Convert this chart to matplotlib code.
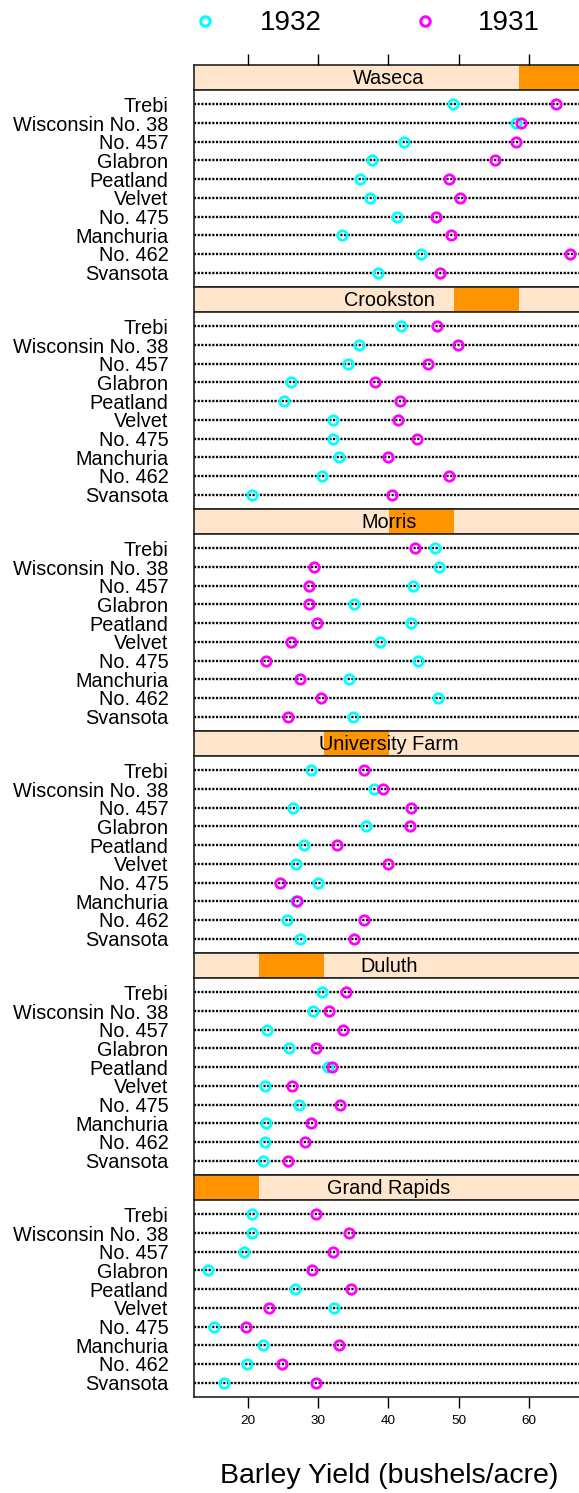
import matplotlib
matplotlib.use("Agg")
from matplotlib import pyplot as plt
from matplotlib.patches import Rectangle

plt.rcParams['font.family'] = ['Liberation Sans', 'DejaVu Sans']

varieties = ['Trebi', 'Wisconsin No. 38', 'No. 457', 'Glabron', 'Peatland',
             'Velvet', 'No. 475', 'Manchuria', 'No. 462', 'Svansota']
sites = ['Waseca', 'Crookston', 'Morris', 'University Farm', 'Duluth', 'Grand Rapids']
years = ['1932', '1931']

waseca_1932 = [49.23, 58.17, 42.20, 37.73, 36.03, 37.40, 41.27, 33.47, 44.70, 38.50]
waseca_1931 = [63.83, 58.80, 58.10, 55.20, 48.57, 50.23, 46.77, 48.87, 65.77, 47.33]
crookston_1932 = [41.83, 35.90, 34.33, 26.17, 25.23, 32.07, 32.13, 32.97, 30.53, 20.63]
crookston_1931 = [46.93, 49.87, 45.67, 38.13, 41.60, 41.33, 44.10, 39.93, 48.57, 40.47]
morris_1932 = [46.63, 47.17, 43.53, 35.13, 43.20, 38.83, 44.23, 34.37, 47.00, 35.03]
morris_1931 = [43.77, 29.47, 28.70, 28.77, 29.87, 26.13, 22.60, 27.43, 30.37, 25.77]
univfarm_1932 = [29.07, 38.00, 26.43, 36.80, 28.07, 26.87, 30.00, 26.90, 25.57, 27.43]
univfarm_1931 = [36.57, 39.30, 43.27, 43.07, 32.77, 39.90, 24.67, 27.00, 36.60, 35.13]
duluth_1932 = [30.60, 29.33, 22.70, 25.87, 31.37, 22.47, 27.37, 22.57, 22.50, 22.23]
duluth_1931 = [33.93, 31.60, 33.60, 29.67, 32.00, 26.30, 33.07, 28.97, 28.10, 25.70]
grandrapids_1932 = [20.63, 20.67, 19.47, 14.43, 26.77, 32.23, 15.23, 22.13, 19.90, 16.63]
grandrapids_1931 = [29.77, 34.47, 32.17, 29.13, 34.70, 23.03, 19.70, 32.97, 24.93, 29.67]

site_data = [
    (waseca_1932, waseca_1931),
    (crookston_1932, crookston_1931),
    (morris_1932, morris_1931),
    (univfarm_1932, univfarm_1931),
    (duluth_1932, duluth_1931),
    (grandrapids_1932, grandrapids_1931),
]

colors = ['#00ffff', '#ff00ff']
W, H = 579, 1493
fig = plt.figure(figsize=(W / 100, H / 100), dpi=100)


def box(x0, y0, x1, y1):
    # pixel box (from top-left) -> figure fraction
    return [x0 / W, 1 - y1 / H, (x1 - x0) / W, (y1 - y0) / H]


left, right = 194, 584
top0, strip_h, block_h = 65, 25, 222
all_vals = [v for pair in site_data for s in pair for v in s]
lo, hi = min(all_vals), max(all_vals)
pad = 0.04 * (hi - lo)
xlim = (lo - pad, hi + pad)
ypad = 0.77
ypos = list(range(len(varieties)))
ticks = [20, 30, 40, 50, 60]
nsites = len(sites)

for i, site in enumerate(sites):
    st = top0 + block_h * i
    sb = st + strip_h
    pb = st + block_h

    # strip
    sax = fig.add_axes(box(left, st, right, sb))
    sax.set_xlim(0, 1)
    sax.set_ylim(0, 1)
    sax.add_patch(Rectangle((0, 0), 1, 1, facecolor='#ffe5cc', edgecolor='none'))
    level = nsites - 1 - i
    sax.add_patch(Rectangle((level / nsites, 0), 1 / nsites, 1,
                            facecolor='#ff9400', edgecolor='none'))
    sax.text(0.5, 0.45, site, ha='center', va='center', fontsize=14.3)
    sax.set_xticks([])
    sax.set_yticks([])
    for sp in sax.spines.values():
        sp.set_linewidth(1.2)
        sp.set_color('#222222')
    sax.spines['bottom'].set_color('#55504a')
    if i == 0:
        tax = sax.twiny()
        tax.set_xlim(xlim)
        tax.set_xticks(ticks)
        tax.tick_params(axis='x', length=8, width=1, labeltop=False)
        for sp in tax.spines.values():
            sp.set_visible(False)

    # panel
    ax = fig.add_axes(box(left, sb, right, pb))
    for y in ypos:
        ax.axhline(y, color='black', lw=1.7, dashes=(0.9, 0.65), zorder=1)
    for k, yr in enumerate(years):
        ax.plot(site_data[i][k], ypos, 'o', ms=6.8, mfc='none', mec=colors[k],
                mew=2.0, zorder=3 + k)
    ax.set_xlim(xlim)
    ax.set_ylim(len(varieties) - 1 + ypad, -ypad)
    ax.set_yticks(ypos)
    ax.set_yticklabels(varieties, fontsize=14.3)
    ax.tick_params(axis='y', length=0, pad=18.5)
    if i == nsites - 1:
        ax.set_xticks(ticks)
        ax.tick_params(axis='x', length=8, width=1, labelsize=9.7, pad=5)
    else:
        ax.set_xticks([])
    for sp in ax.spines.values():
        sp.set_linewidth(1.2)
        sp.set_color('#222222')

# legend on top
lax = fig.add_axes(box(0, 0, W, 45))
lax.set_xlim(0, W)
lax.set_ylim(45, 0)
lax.axis('off')
leg_x = [205, 425]
text_x = [291, 509]
for k, yr in enumerate(years):
    lax.plot([leg_x[k]], [21], 'o', ms=6.8, mfc='none', mec=colors[k], mew=2.2)
    lax.text(text_x[k], 23, yr, ha='center', va='center', fontsize=20)

fig.text((left + right) / 2 / W, 1 - 1476 / H, 'Barley Yield (bushels/acre)',
         ha='center', va='center', fontsize=20.5)

fig.savefig('out.png', dpi=100)
